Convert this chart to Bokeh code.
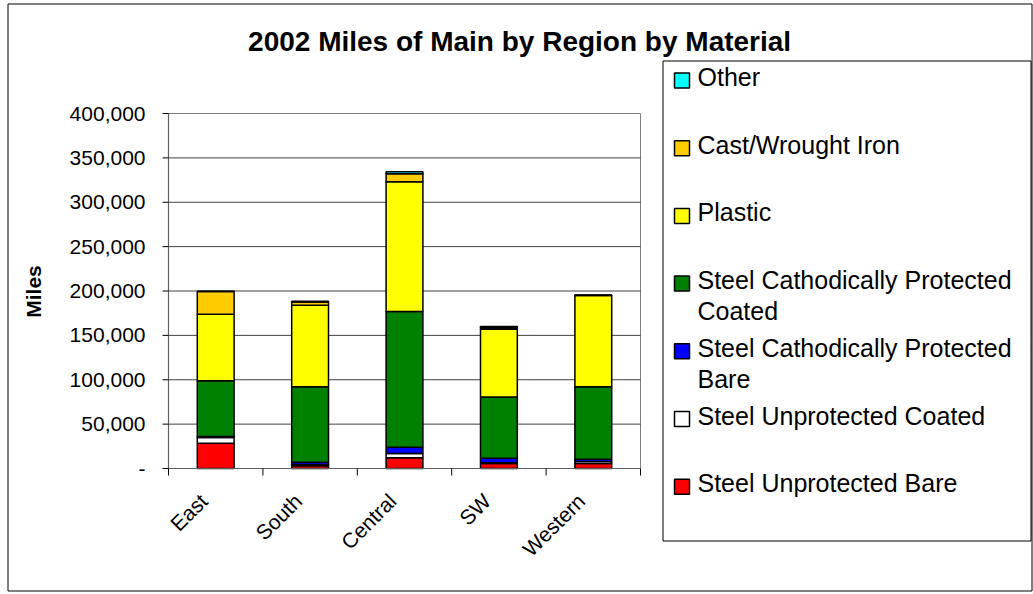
import math
import textwrap
from bokeh.plotting import figure
from bokeh.models import Range1d, ColumnDataSource
from bokeh.core.properties import value
from bokeh.embed import file_html
from bokeh.resources import INLINE

# ---- data ----
regions = ["East", "South", "Central", "SW", "Western"]
steel_unprotected_bare = [28500, 3000, 12000, 5500, 5500]
steel_unprotected_coated = [6500, 1500, 5000, 1000, 2500]
steel_cp_bare = [1000, 2500, 7000, 5000, 2500]
steel_cp_coated = [63000, 85000, 153000, 69000, 81500]
plastic = [74800, 92000, 146000, 76500, 103000]
cast_wrought_iron = [25500, 3500, 9000, 1500, 300]
other = [500, 1000, 2500, 1500, 200]

series_names = ["Steel Unprotected Bare", "Steel Unprotected Coated",
                "Steel Cathodically Protected Bare", "Steel Cathodically Protected Coated",
                "Plastic", "Cast/Wrought Iron", "Other"]
series_values = [steel_unprotected_bare, steel_unprotected_coated, steel_cp_bare,
                 steel_cp_coated, plastic, cast_wrought_iron, other]
series_colors = ["#FF0000", "#FFFFFF", "#0000FF", "#008000", "#FFFF00", "#FFCC00", "#00FFFF"]
y_ticks = [0, 50000, 100000, 150000, 200000, 250000, 300000, 350000, 400000]
y_tick_labels = ["-" if t == 0 else f"{t:,}" for t in y_ticks]

title_text = "2002 Miles of Main by  Region by Material"
y_label = "Miles"

FONT = value("Liberation Sans")
W, H = 1033, 594
FL, FR, FT, FB = 168, 640, 113, 468      # plot-area edges in canvas px
Y_MAX = 400000
n_cat = len(regions)
CAT_PX = (FR - FL) / n_cat                # px per category
MPP = Y_MAX / (FB - FT)                   # miles per px

# whole canvas is the drawing frame; default ranges are canvas pixels (y downward)
p = figure(width=W, height=H, x_range=Range1d(0, W), y_range=Range1d(H, 0),
           output_backend="svg", toolbar_location=None, x_axis_location=None,
           y_axis_location=None, min_border=0)
p.outline_line_color = None
p.xgrid.visible = False
p.ygrid.visible = False
p.background_fill_color = "white"
p.border_fill_color = "white"

# data ranges: category units along x, miles along y, placed on the plot area
p.extra_x_ranges = {"cat": Range1d(-FL / CAT_PX, (W - FL) / CAT_PX)}
p.extra_y_ranges = {"miles": Range1d(-(H - FB) * MPP, Y_MAX + FT * MPP)}
D = dict(x_range_name="cat", y_range_name="miles")

centers = [i + 0.5 for i in range(n_cat)]
edges = list(range(n_cat + 1))

# outer chart border
p.quad(left=7.5, right=1031.5, top=3.5, bottom=590.5, fill_color=None,
       line_color="black", line_width=1)

# plot area: border and gridlines
p.quad(left=0, right=n_cat, bottom=0, top=Y_MAX, fill_color="white",
       line_color="#808080", line_width=1, **D)
grid_t = [t for t in y_ticks if 0 < t < Y_MAX]
p.segment(x0=[0] * len(grid_t), x1=[n_cat] * len(grid_t), y0=grid_t, y1=grid_t,
          line_color="#404040", line_width=1, **D)

# stacked bars
data = {"x": centers, "region": regions}
for n, v in zip(series_names, series_values):
    data[n] = v
source = ColumnDataSource(data)
p.vbar_stack(series_names, x="x", width=0.39, source=source,
             fill_color=series_colors, line_color="black", line_width=1.5, **D)

# y axis
p.segment(x0=[0], x1=[0], y0=[0], y1=[Y_MAX], line_color="#606060", line_width=1.2, **D)
p.segment(x0=[0] * len(y_ticks), x1=[-6 / CAT_PX] * len(y_ticks), y0=y_ticks, y1=y_ticks,
          line_color="black", line_width=1, **D)
p.text(x=[-23 / CAT_PX] * len(y_ticks), y=y_ticks, text=y_tick_labels, text_font=FONT,
       text_font_size="21px", text_align="right", text_baseline="middle",
       text_color="black", **D)
p.text(x=[33], y=[291], text=[y_label], angle=math.pi / 2, text_font=FONT,
       text_font_size="21px", text_font_style="bold", text_align="center",
       text_baseline="middle", text_color="black")

# x axis
p.segment(x0=[0], x1=[n_cat], y0=[0], y1=[0], line_color="#606060", line_width=1.2, **D)
p.segment(x0=edges, x1=edges, y0=[0] * len(edges), y1=[-7 * MPP] * len(edges),
          line_color="black", line_width=1, **D)
p.text(x=[c - 12 / CAT_PX for c in centers], y=[-29 * MPP] * n_cat, text=regions,
       angle=math.pi / 4, text_font=FONT, text_font_size="21px", text_align="right",
       text_baseline="middle", text_color="black", **D)

# title
p.text(x=[523], y=[40.5], text=[title_text], text_font=FONT, text_font_size="28px",
       text_font_style="bold", text_align="center", text_baseline="alphabetic",
       text_color="black")

# legend box
p.quad(left=662.5, right=1030.5, top=60.5, bottom=540.5, fill_color="white",
       line_color="black", line_width=1)

# legend entries (top to bottom: reverse of stacking order)
sq_base0 = 85.5
text_base0 = 76.5
step = 67.7
sq_l, sq_r, sq_t, sq_b, tx, tx_y, tx_s = [], [], [], [], [], [], []
for i, name in enumerate(series_names[::-1]):
    b = sq_base0 + i * step
    sq_l.append(674)
    sq_r.append(689)
    sq_t.append(b - 13)
    sq_b.append(b + 2)
    for j, line in enumerate(textwrap.wrap(name, 28)):
        tx.append(697)
        tx_y.append(text_base0 + i * step + j * 31)
        tx_s.append(line)
p.quad(left=sq_l, right=sq_r, top=sq_t, bottom=sq_b, fill_color=series_colors[::-1],
       line_color="black", line_width=1.5)
p.text(x=tx, y=tx_y, text=tx_s, text_font=FONT, text_font_size="25px", text_align="left",
       text_baseline="alphabetic", text_color="black")

open("out.html", "w").write(file_html(p, INLINE))
